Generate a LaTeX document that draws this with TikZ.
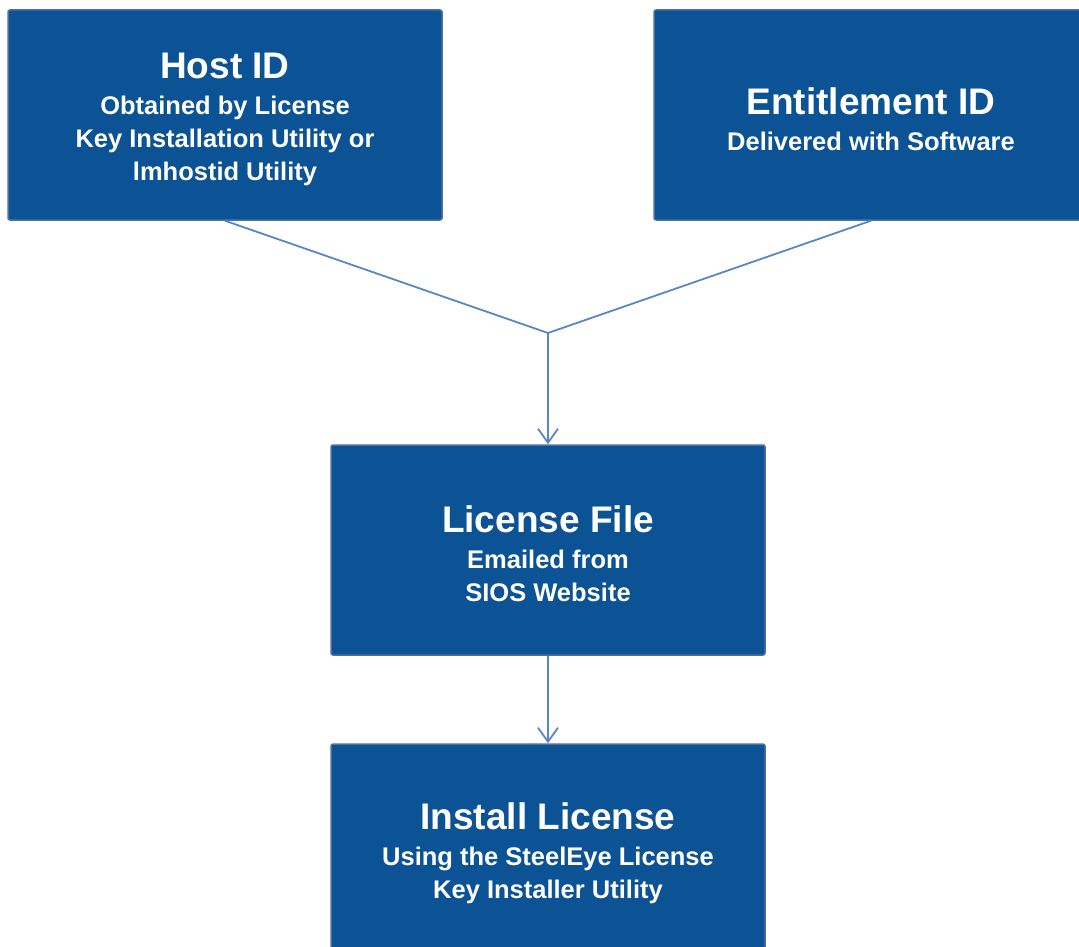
\documentclass[tikz,border=0pt]{standalone}
\usepackage{fontspec}
\setmainfont{Liberation Sans}
\usetikzlibrary{arrows.meta}
\definecolor{boxfill}{HTML}{0B5394}
\definecolor{boxedge}{HTML}{4C719F}
\definecolor{linkcol}{HTML}{5B86C4}
\newcommand{\ttl}{\fontsize{37}{33}\selectfont\rule{0pt}{35pt}}
\newcommand{\sbt}{\fontsize{25.5}{33}\selectfont}
\tikzset{
  flowbox/.style={draw=boxedge, line width=1.5pt, fill=boxfill, rounded corners=2pt,
    minimum width=434pt, minimum height=210pt, text=white, align=center,
    font=\bfseries\sbt, inner sep=0pt},
  link/.style={draw=linkcol, line width=1.8pt},
  linkarrow/.style={link, -{Straight Barb[length=14pt,width=20pt,line width=1.8pt]}}
}
\begin{document}
\begin{tikzpicture}[x=1pt,y=-1pt]
\useasboundingbox (0,0) rectangle (1079,947);
\clip (0,0) rectangle (1079,947);
\node[flowbox] (host) at (225,115) {{\ttl Host ID}\\[3pt]Obtained by License\\Key Installation Utility or\\lmhostid Utility};
\node[flowbox] (ent) at (871,115) {{\ttl Entitlement ID}\\[3pt]Delivered with Software};
\node[flowbox] (lic) at (548,550) {{\ttl License File}\\[3pt]Emailed from\\SIOS Website};
\node[flowbox] (inst) at (548,849) {{\ttl Install License}\\[3pt]Using the SteelEye License\\Key Installer Utility};
\coordinate (join) at (548,333);
\draw[link] (host.south) -- (join);
\draw[link] (ent.south) -- (join);
\draw[linkarrow] (join) -- (lic.north);
\draw[linkarrow] (lic.south) -- (inst.north);
\end{tikzpicture}
\end{document}
